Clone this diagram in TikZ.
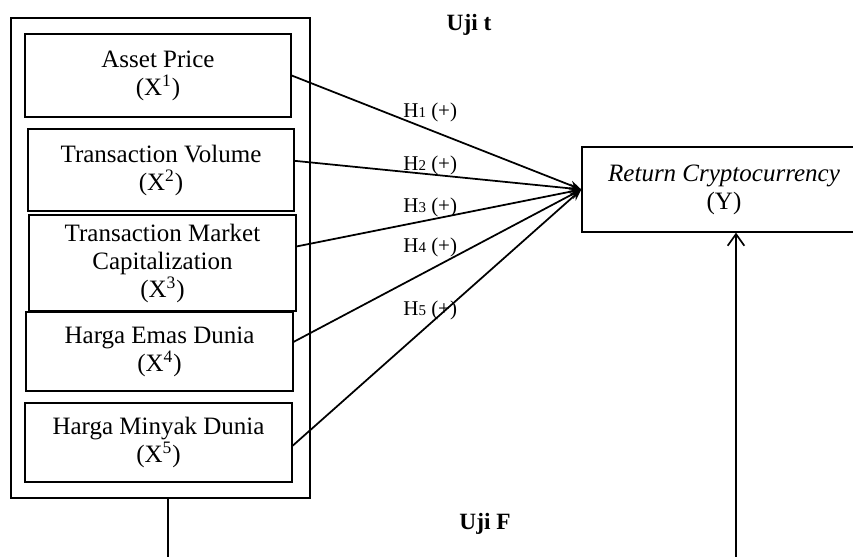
\documentclass[tikz,border=0pt]{standalone}
\usepackage{fontspec}
\setmainfont{Liberation Serif}
\usetikzlibrary{arrows.meta,positioning,calc}
\newcommand{\hyp}[1]{H{\fontsize{9}{9}\selectfont #1}~(+)}

\begin{document}
\begin{tikzpicture}[x=0.6pt,y=-0.6pt,
      var/.style={draw,line width=0.8pt,inner sep=0pt,align=center,font=\fontsize{15}{16.8}\selectfont},
      frame/.style={draw,line width=1.2pt,inner sep=0pt},
      hlab/.style={anchor=west,inner sep=0pt,font=\fontsize{12.6}{14}\selectfont},
      test/.style={font=\fontsize{14}{16}\selectfont\bfseries},
      hyparrow/.style={line width=1.05pt,-{Stealth[length=7pt,width=5.5pt]}}]
    \useasboundingbox (0,0) rectangle (853,557);
    % independent variables
    \node[frame,minimum width=179.4pt,minimum height=288pt] (xgroup) at (160.5,258) {};
    \node[var,minimum width=159.6pt,minimum height=49.8pt] (x1) at (158,75.5) {Asset Price\\(X\textsuperscript{1})};
    \node[var,minimum width=159.6pt,minimum height=49.2pt] (x2) at (161,170) {Transaction Volume\\(X\textsuperscript{2})};
    \node[var,minimum width=160.2pt,minimum height=57.6pt] (x3) at (162.5,263) {Transaction Market\\Capitalization\\(X\textsuperscript{3})};
    \node[var,minimum width=160.2pt,minimum height=47.4pt] (x4) at (159.5,351.5) {Harga Emas Dunia\\(X\textsuperscript{4})};
    \node[var,minimum width=160.2pt,minimum height=47.4pt] (x5) at (158.5,442.5) {Harga Minyak Dunia\\(X\textsuperscript{5})};
    % dependent variable
    \node[var,minimum width=170.4pt,minimum height=51pt] (y) at (724,189.5) {\textit{Return Cryptocurrency}\\(Y)};
    % partial tests
    \foreach \i/\yy in {1/112,2/165,3/207,4/247,5/310} {
      \node[hlab] (h\i) at (403,\yy) {\hyp{\i}};
    }
    \foreach \i/\f in {1/0.5,2/0.61,3/0.67,4/0.62,5/0.46} {
      \draw[hyparrow] ($(x\i.south east)!\f!(x\i.north east)$) -- (y.west);
    }
    \node[test] (ujit) at (469,25) {Uji t};
    % simultaneous test
    \node[test] (ujif) at (485,524) {Uji F};
    \coordinate (xbase) at (168,557);
    \coordinate (ybase) at (736,557);
    \draw[line width=1pt] (xgroup.south -| xbase) -- (xbase);
    \draw[line width=1pt,-{Straight Barb[length=7pt,width=10pt]}] (ybase) -- (ybase |- y.south);
  \end{tikzpicture}
\end{document}
